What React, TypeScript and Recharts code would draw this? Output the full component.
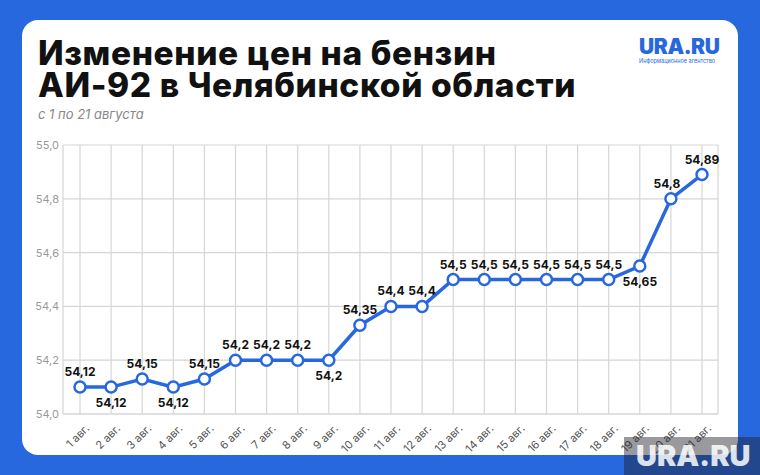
import React from 'react';
import { LineChart, Line, XAxis, YAxis, CartesianGrid, LabelList } from 'recharts';

const days = [
  '1 авг.', '2 авг.', '3 авг.', '4 авг.', '5 авг.', '6 авг.', '7 авг.',
  '8 авг.', '9 авг.', '10 авг.', '11 авг.', '12 авг.', '13 авг.', '14 авг.',
  '15 авг.', '16 авг.', '17 авг.', '18 авг.', '19 авг.', '20 авг.', '21 авг.',
];

// where the points sit on the chart
const prices = [
  54.1, 54.1, 54.13, 54.1, 54.13, 54.2, 54.2, 54.2, 54.2, 54.33, 54.4,
  54.4, 54.5, 54.5, 54.5, 54.5, 54.5, 54.5, 54.55, 54.8, 54.89,
];

// printed values
const priceLabels = [
  '54,12', '54,12', '54,15', '54,12', '54,15', '54,2', '54,2', '54,2', '54,2',
  '54,35', '54,4', '54,4', '54,5', '54,5', '54,5', '54,5', '54,5', '54,5',
  '54,65', '54,8', '54,89',
];

const yTicks = [54.0, 54.2, 54.4, 54.6, 54.8, 55.0];

const data = days.map((day, i) => ({ day, price: prices[i], label: priceLabels[i] }));

const BLUE = '#2768df';
const FONT = 'Inter, "Noto Sans", sans-serif';
const below = new Set([1, 3, 8, 18]);

const PointLabel = (props: any) => {
  const { x, y, index } = props;
  const isBelow = below.has(index);
  const dx = index === 19 ? -4 : 0;
  return (
    <text
      x={x + dx}
      y={isBelow ? y + 20 : y - 11}
      textAnchor="middle"
      fontFamily={FONT}
      fontWeight={700}
      fontSize={12}
      fill="#111"
    >
      {priceLabels[index]}
    </text>
  );
};

const DayTick = (props: any) => {
  const { x, y, payload } = props;
  const ax = x + 10;
  const ay = y + 7;
  return (
    <text
      x={ax}
      y={ay}
      transform={`rotate(-45, ${ax}, ${ay})`}
      textAnchor="end"
      fontFamily={FONT}
      fontSize={11}
      fill="#555"
    >
      {payload.value}
    </text>
  );
};

const titleLine: React.CSSProperties = {
  position: 'absolute',
  left: 38,
  height: 32,
  fontSize: 33.5,
  fontWeight: 800,
  lineHeight: '32px',
  color: '#111',
  letterSpacing: 0.6,
  whiteSpace: 'nowrap',
};

export default function App() {
  return (
    <div
      style={{
        position: 'absolute',
        left: 0,
        top: 0,
        width: 760,
        height: 475,
        background: BLUE,
        overflow: 'hidden',
        fontFamily: FONT,
      }}
    >
      <div
        style={{
          position: 'absolute',
          left: 22,
          top: 20,
          width: 716,
          height: 435,
          background: '#fff',
          borderRadius: 16,
        }}
      />
      <div style={{ ...titleLine, top: 37 }}>Изменение цен на бензин</div>
      <div style={{ ...titleLine, top: 69 }}>АИ-92 в Челябинской области</div>
      <div
        style={{
          position: 'absolute',
          left: 38,
          top: 106,
          fontSize: 13,
          fontStyle: 'italic',
          color: '#888',
        }}
      >
        с 1 по 21 августа
      </div>
      <div style={{ position: 'absolute', left: 639, top: 35, color: BLUE }}>
        <div style={{ fontSize: 21, fontWeight: 900, lineHeight: '23px', letterSpacing: -0.4 }}>URA.RU</div>
        <div style={{ fontSize: 5.5, lineHeight: '7px', color: BLUE }}>Информационное агентство</div>
      </div>
      <div style={{ position: 'absolute', left: 0, top: 0 }}>
        <LineChart
          width={760}
          height={475}
          data={data}
          margin={{ top: 145, right: 42, bottom: 0, left: 20 }}
        >
          <CartesianGrid stroke="#d6d6d6" strokeWidth={1.2} />
          <XAxis
            dataKey="day"
            interval={0}
            height={61}
            padding={{ left: 17, right: 16 }}
            axisLine={{ stroke: '#d6d6d6', strokeWidth: 1.2 }}
            tickLine={false}
            tick={<DayTick />}
          />
          <YAxis
            domain={[54, 55]}
            ticks={yTicks}
            width={43}
            axisLine={false}
            tickLine={false}
            tickSize={0}
            tickMargin={4}
            tickFormatter={(v: number) => v.toFixed(1).replace('.', ',')}
            tick={{ fill: '#9a9a9a', fontSize: 11, fontFamily: FONT }}
          />
          <Line
            dataKey="price"
            stroke={BLUE}
            strokeWidth={3.5}
            dot={{ r: 5.5, fill: '#fff', stroke: BLUE, strokeWidth: 2.5 }}
            isAnimationActive={false}
          >
            <LabelList dataKey="label" content={<PointLabel />} />
          </Line>
        </LineChart>
      </div>
      <div
        style={{
          position: 'absolute',
          left: 624,
          top: 437,
          width: 136,
          height: 38,
          background: 'rgba(30,30,40,0.45)',
          color: 'rgba(255,255,255,0.85)',
          fontSize: 29,
          fontWeight: 900,
          lineHeight: '38px',
          paddingLeft: 12,
          boxSizing: 'border-box',
        }}
      >
        URA.RU
      </div>
    </div>
  );
}
